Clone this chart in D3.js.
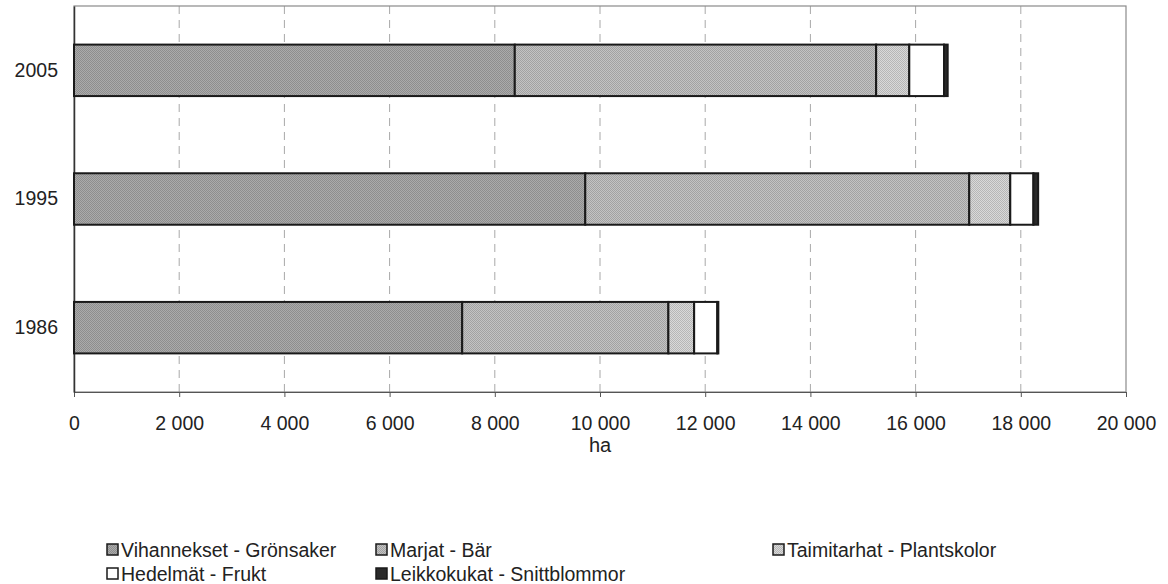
<!DOCTYPE html>
<html>
<head>
<meta charset="utf-8">
<script src="https://cdn.jsdelivr.net/npm/d3@7"></script>
<style>
  body { margin: 0; background: #fff; }
  text { font-family: "Liberation Sans", Arial, sans-serif; fill: #222; }
</style>
</head>
<body>
<div id="chart"></div>
<script>
const years = ['2005', '1995', '1986']
const seriesNames = ['Vihannekset - Grönsaker', 'Marjat - Bär', 'Taimitarhat - Plantskolor', 'Hedelmät - Frukt', 'Leikkokukat - Snittblommor']
const vihannekset = [8380, 9720, 7380]
const marjat = [6870, 7300, 3920]
const taimitarhat = [630, 780, 490]
const hedelmat = [660, 440, 440]
const leikkokukat = [70, 90, 20]
const xTicks = [0, 2000, 4000, 6000, 8000, 10000, 12000, 14000, 16000, 18000, 20000]

// base / dot colours for the dotted textures
const patterns = [
    ['#ababab', '#8e8e8e'],
    ['#c3c3c3', '#a2a2a2'],
    ['#d9d9d9', '#b6b6b6'],
    ['#ffffff', '#ffffff'],
    ['#2a2a2a', '#2a2a2a']
]

const W = 1168, H = 584
const margin = { top: 6, right: 42, bottom: 192, left: 74 }
const width = W - margin.left - margin.right
const height = H - margin.top - margin.bottom
const fontSize = '19.5px'

const rows = years.map((y, i) => ({
    year: y,
    s0: vihannekset[i], s1: marjat[i], s2: taimitarhat[i], s3: hedelmat[i], s4: leikkokukat[i]
}))
const stack = d3.stack().keys(['s0', 's1', 's2', 's3', 's4'])(rows)

const svg = d3.select('#chart').append('svg')
    .attr('width', W).attr('height', H)

const defs = svg.append('defs')
patterns.forEach((p, i) => {
    const pat = defs.append('pattern')
        .attr('id', 'pat' + i)
        .attr('width', 2).attr('height', 2)
        .attr('patternUnits', 'userSpaceOnUse')
    pat.append('rect').attr('width', 2).attr('height', 2).attr('fill', p[0])
    pat.append('rect').attr('width', 1).attr('height', 1).attr('fill', p[1])
    pat.append('rect').attr('x', 1).attr('y', 1).attr('width', 1).attr('height', 1).attr('fill', p[1])
})

const g = svg.append('g')
    .attr('transform', `translate(${margin.left}, ${margin.top})`)

let x = d3.scaleLinear().domain([0, 20000]).range([0, width])
let y = d3.scaleBand().domain(years).range([0, height]).paddingInner(0.6).paddingOuter(0.3)

// dashed gridlines
g.selectAll('.grid')
    .data(xTicks.slice(1, -1))
    .enter().append('line')
    .attr('x1', d => x(d)).attr('x2', d => x(d))
    .attr('y1', 0).attr('y2', height)
    .attr('stroke', '#a8a8a8')
    .attr('stroke-width', 1)
    .attr('stroke-dasharray', '8,6')

// plot frame
g.append('rect')
    .attr('x', 0).attr('y', 0)
    .attr('width', width).attr('height', height)
    .attr('fill', 'none')
    .attr('stroke', '#8a8a8a')
    .attr('stroke-width', 1.2)

// bottom axis
let bottomAxis = d3.axisBottom(x)
    .tickValues(xTicks)
    .tickSize(5)
    .tickFormat(d => d3.format(',')(d).replace(/,/g, ' '))
const bx = g.append('g')
    .attr('transform', `translate(0, ${height})`)
    .call(bottomAxis)
bx.select('.domain').attr('stroke', '#555')
bx.selectAll('.tick line').attr('stroke', '#555')
bx.selectAll('.tick text')
    .attr('dy', 0).attr('y', 38)
    .style('font-size', fontSize)
    .style('font-family', '"Liberation Sans", Arial, sans-serif')
    .attr('fill', '#222')

// left axis
let leftAxis = d3.axisLeft(y).tickSize(0).tickPadding(16)
const ly = g.append('g').call(leftAxis)
ly.select('.domain').attr('stroke', '#333').attr('stroke-width', 1.5)
ly.selectAll('.tick text')
    .style('font-size', fontSize)
    .style('font-family', '"Liberation Sans", Arial, sans-serif')
    .attr('fill', '#222')

// bars
stack.forEach((layer, k) => {
    g.selectAll('.bar' + k)
        .data(layer)
        .enter().append('rect')
        .attr('x', d => x(d[0]))
        .attr('y', d => y(d.data.year))
        .attr('width', d => x(d[1]) - x(d[0]))
        .attr('height', y.bandwidth())
        .attr('fill', `url(#pat${k})`)
        .attr('stroke', '#1a1a1a')
        .attr('stroke-width', 2)
})

// x title
svg.append('text')
    .attr('x', margin.left + width / 2)
    .attr('y', 452)
    .attr('text-anchor', 'middle')
    .style('font-size', '20px')
    .text('ha')

// legend
const legendPos = [[107, 550], [376, 550], [773, 550], [107, 574], [376, 574]]
seriesNames.forEach((name, i) => {
    const lg = svg.append('g')
        .attr('transform', `translate(${legendPos[i][0]}, ${legendPos[i][1]})`)
    lg.append('rect')
        .attr('x', 0).attr('y', -6)
        .attr('width', 11).attr('height', 11)
        .attr('fill', `url(#pat${i})`)
        .attr('stroke', '#1a1a1a')
        .attr('stroke-width', 1.5)
    lg.append('text')
        .attr('x', 14).attr('y', 7)
        .style('font-size', fontSize)
        .text(name)
})
</script>
</body>
</html>
